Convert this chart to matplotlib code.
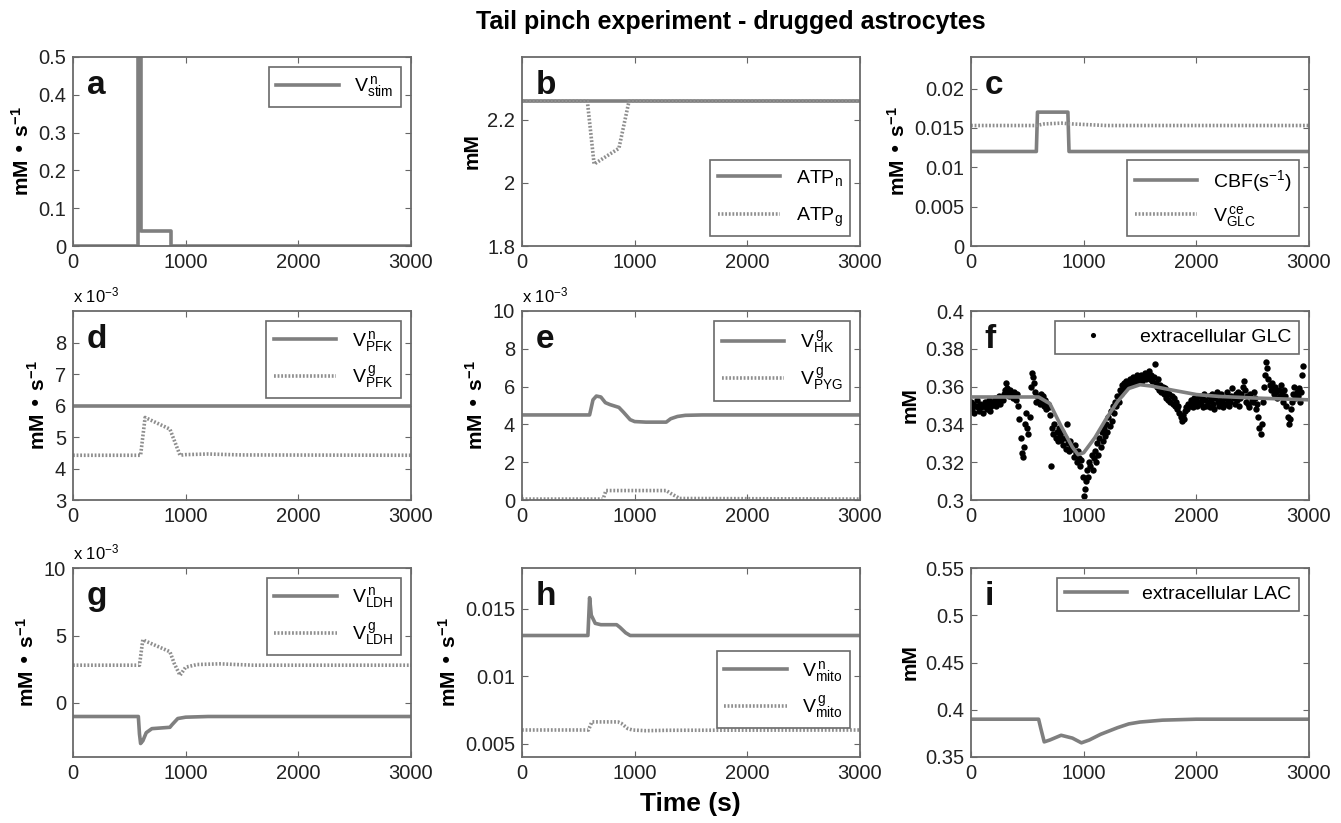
import numpy as np
import matplotlib
matplotlib.use('Agg')
import matplotlib.pyplot as plt

plt.rcParams['font.family'] = ['Liberation Sans', 'DejaVu Sans']
plt.rcParams['mathtext.default'] = 'regular'

# ---- data ----
# a: neuronal stimulation
t_stim = [0, 580, 580, 600, 600, 870, 870, 3000]
v_stim = [0, 0, 0.6, 0.6, 0.04, 0.04, 0, 0]

# b: ATP
t_atpn = [0, 3000]
atp_n = [2.26, 2.26]
t_atpg = [0, 580, 640, 860, 950, 3000]
atp_g = [2.26, 2.26, 2.06, 2.11, 2.26, 2.26]

# c: CBF and glucose transport
t_cbf = [0, 580, 590, 860, 870, 3000]
cbf = [0.012, 0.012, 0.017, 0.017, 0.012, 0.012]
t_vglc = [0, 580, 650, 800, 900, 1200, 3000]
v_glc = [0.0153, 0.0153, 0.0155, 0.0156, 0.0155, 0.0153, 0.0153]

# d: PFK (x 1e-3)
t_pfkn = [0, 3000]
pfk_n = [6.0, 6.0]
t_pfkg = [0, 600, 640, 860, 950, 1000, 1200, 1500, 3000]
pfk_g = [4.42, 4.42, 5.62, 5.25, 4.42, 4.44, 4.46, 4.43, 4.42]

# e: HK and PYG (x 1e-3)
t_hk = [0, 600, 630, 660, 700, 740, 780, 860, 900, 960, 1000, 1100, 1280, 1320, 1380, 1450, 1600, 3000]
hk_g = [4.5, 4.5, 5.3, 5.5, 5.45, 5.15, 5.05, 4.9, 4.65, 4.25, 4.15, 4.12, 4.12, 4.3, 4.42, 4.48, 4.5, 4.5]
t_pyg = [0, 720, 745, 1280, 1320, 1400, 3000]
pyg_g = [0.05, 0.05, 0.5, 0.5, 0.35, 0.08, 0.05]

# f: extracellular glucose, measured (every 10 s, in uM) and model
glc_obs = [352, 348, 351, 346, 350, 353, 349, 347, 351, 349,
           350, 346, 352, 349, 348, 351, 353, 347, 350, 352,
           351, 354, 350, 353, 352, 355, 351, 354, 353, 356,
           358, 362, 359, 357, 355, 358, 356, 354, 357, 355,
           353, 356, 350, 343, 333, 325, 323, 328, 340, 346,
           338, 335, 344, 360, 367, 365, 362, 357, 352, 355,
           354, 351, 356, 352, 355, 350, 353, 348, 351, 349,
           345, 318, 338, 335, 340, 333, 336, 331, 338, 334,
           332, 336, 329, 333, 327, 340, 330, 326, 331, 328,
           327, 323, 329, 325, 320, 326, 322, 318, 321, 312,
           302, 306, 310, 316, 312, 320, 318, 324, 316, 322,
           326, 320, 330, 324, 333, 328, 336, 331, 338, 334,
           340, 336, 344, 339, 347, 342, 350, 346, 352, 350,
           355, 352, 358, 356, 361, 358, 362, 360, 363, 361,
           362, 364, 361, 363, 365, 362, 364, 366, 363, 365,
           364, 366, 363, 365, 367, 364, 366, 365, 368, 364,
           366, 363, 365, 372, 362, 360, 364, 358, 361, 357,
           360, 356, 359, 354, 357, 353, 356, 352, 355, 351,
           354, 350, 352, 348, 350, 346, 344, 342, 345, 343,
           347, 349, 348, 351, 350, 353, 352, 349, 354, 351,
           353, 350, 355, 352, 351, 354, 349, 356, 353, 350,
           352, 355, 349, 353, 356, 351, 348, 354, 357, 352,
           350, 353, 356, 352, 349, 354, 351, 357, 353, 350,
           352, 355, 359, 354, 351, 356, 353, 357, 350, 354,
           356, 360, 363, 358, 352, 355, 351, 349, 356, 353,
           352, 357, 354, 348, 351, 344, 338, 335, 340, 352,
           360, 366, 373, 370, 364, 361, 358, 362, 359, 356,
           360, 357, 354, 358, 355, 361, 356, 352, 358, 355,
           350, 344, 340, 343, 348, 352, 356, 360, 354, 357,
           355, 359, 352, 357, 366, 371]
t_glc_fit = [0, 600, 700, 800, 900, 950, 1000, 1100, 1200, 1300, 1400, 1500, 1600, 1800, 2000, 2200, 2500, 3000]
glc_fit = [0.3545, 0.3545, 0.351, 0.339, 0.328, 0.324, 0.325, 0.333, 0.343, 0.352, 0.359, 0.361, 0.3603, 0.358, 0.3558, 0.3548, 0.354, 0.353]

# g: LDH (x 1e-3)
t_ldhn = [0, 580, 590, 600, 620, 650, 700, 860, 880, 930, 1000, 1200, 3000]
ldh_n = [-1.0, -1.0, -2.3, -3.0, -2.8, -2.2, -1.9, -1.8, -1.6, -1.15, -1.05, -1.0, -1.0]
t_ldhg = [0, 590, 620, 640, 860, 900, 950, 1000, 1100, 1300, 1600, 3000]
ldh_g = [2.8, 2.8, 4.7, 4.6, 3.8, 2.9, 2.05, 2.65, 2.85, 2.9, 2.8, 2.8]

# h: mitochondria
t_miton = [0, 585, 600, 615, 650, 700, 840, 870, 920, 960, 1000, 3000]
mito_n = [0.013, 0.013, 0.0158, 0.0145, 0.0139, 0.0138, 0.0138, 0.0136, 0.0132, 0.0130, 0.013, 0.013]
t_mitog = [0, 590, 620, 850, 880, 940, 980, 1100, 1300, 3000]
mito_g = [0.006, 0.006, 0.0066, 0.0066, 0.0065, 0.0061, 0.006, 0.00595, 0.00598, 0.006]

# i: extracellular lactate
t_lac = [0, 600, 620, 650, 700, 800, 900, 980, 1050, 1150, 1300, 1400, 1500, 1700, 2000, 3000]
lac = [0.39, 0.39, 0.38, 0.366, 0.368, 0.373, 0.37, 0.365, 0.368, 0.374, 0.381, 0.385, 0.387, 0.389, 0.39, 0.39]

# ---- figure ----
W, H = 1341, 823
fig = plt.figure(figsize=(W/100, H/100), dpi=100)

lefts = [73, 522, 971]
tops = [57, 311, 568]
aw, ah = 338, 189

gray = '#7f7f7f'
dgray = '#8e8e8e'
sol = dict(color=gray, lw=2.6, ls='-')
dot = dict(color=dgray, lw=2.6, ls=(0, (0.5, 0.5)))

def mkax(r, c):
    ax = fig.add_axes([lefts[c]/W, 1-(tops[r]+ah)/H, aw/W, ah/H])
    ax.set_xlim(0, 3000)
    ax.set_xticks([0, 1000, 2000, 3000])
    ax.tick_params(direction='in', top=True, right=True, labelsize=14.5, length=4,
                   color='#666666', labelcolor='#222222', pad=5)
    for s in ax.spines.values():
        s.set_color('#6a6a6a')
        s.set_linewidth(1.3)
    return ax

def letter(ax, s):
    ax.text(0.04, 0.93, s, transform=ax.transAxes, fontsize=24, fontweight='bold',
            va='top', ha='left', color='#111111')

def leg(ax, **kw):
    opts = dict(fontsize=14, fancybox=False, framealpha=1, edgecolor='#6a6a6a',
                handlelength=3.2, borderaxespad=0.5)
    opts.update(kw)
    l = ax.legend(**opts)
    l.get_frame().set_linewidth(1.2)
    return l

def ylab(ax, s):
    ax.set_ylabel(s, fontsize=15, fontweight='bold')

def scale_note(ax):
    ax.text(0.0, 1.03, 'x 10$^{-3}$', transform=ax.transAxes, fontsize=12, ha='left', va='bottom')

rate = 'mM \u2022 s$^{-1}$'

# a
ax = mkax(0, 0)
ax.plot(t_stim, v_stim, label='V$^{\\,n}_{stim}$', **sol)
ax.set_ylim(0, 0.5)
ax.set_yticks([0, 0.1, 0.2, 0.3, 0.4, 0.5])
ax.set_yticklabels(['0', '0.1', '0.2', '0.3', '0.4', '0.5'])
ylab(ax, rate); letter(ax, 'a'); leg(ax, loc='upper right')

# b
ax = mkax(0, 1)
ax.plot(t_atpn, atp_n, label='ATP$_n$', **sol)
ax.plot(t_atpg, atp_g, label='ATP$_g$', **dot)
ax.set_ylim(1.8, 2.4)
ax.set_yticks([1.8, 2.0, 2.2])
ax.set_yticklabels(['1.8', '2', '2.2'])
ylab(ax, 'mM'); letter(ax, 'b'); leg(ax, loc='lower right', labelspacing=0.9)

# c
ax = mkax(0, 2)
ax.plot(t_cbf, cbf, label='CBF(s$^{-1}$)', **sol)
ax.plot(t_vglc, v_glc, label='V$^{\\,ce}_{GLC}$', **dot)
ax.set_ylim(0, 0.024)
ax.set_yticks([0, 0.005, 0.01, 0.015, 0.02])
ax.set_yticklabels(['0', '0.005', '0.01', '0.015', '0.02'])
ylab(ax, rate); letter(ax, 'c'); leg(ax, loc='lower right')

# d
ax = mkax(1, 0)
ax.plot(t_pfkn, pfk_n, label='V$^{\\,n}_{PFK}$', **sol)
ax.plot(t_pfkg, pfk_g, label='V$^{\\,g}_{PFK}$', **dot)
ax.set_ylim(3, 9)
ax.set_yticks([3, 4, 5, 6, 7, 8])
ylab(ax, rate); letter(ax, 'd'); leg(ax, loc='upper right'); scale_note(ax)

# e
ax = mkax(1, 1)
ax.plot(t_hk, hk_g, label='V$^{\\,g}_{HK}$', **sol)
ax.plot(t_pyg, pyg_g, label='V$^{\\,g}_{PYG}$', **dot)
ax.set_ylim(0, 10)
ax.set_yticks([0, 2, 4, 6, 8, 10])
ylab(ax, rate); letter(ax, 'e'); leg(ax, loc='upper right'); scale_note(ax)

# f
ax = mkax(1, 2)
t_glc = 10*np.arange(len(glc_obs))
ax.plot(t_glc, np.array(glc_obs)/1000.0, 'o', color='black', ms=4.6, mew=0,
        label='extracellular GLC')
ax.plot(t_glc_fit, glc_fit, color=gray, lw=2.6, zorder=3)
ax.set_ylim(0.3, 0.4)
ax.set_yticks([0.3, 0.32, 0.34, 0.36, 0.38, 0.4])
ax.set_yticklabels(['0.3', '0.32', '0.34', '0.36', '0.38', '0.4'])
ylab(ax, 'mM'); letter(ax, 'f')
l = leg(ax, loc='upper right', numpoints=1, markerscale=0.8)

# g
ax = mkax(2, 0)
ax.plot(t_ldhn, ldh_n, label='V$^{\\,n}_{LDH}$', **sol)
ax.plot(t_ldhg, ldh_g, label='V$^{\\,g}_{LDH}$', **dot)
ax.set_ylim(-4, 10)
ax.set_yticks([0, 5, 10])
ylab(ax, rate); letter(ax, 'g'); leg(ax, loc='upper right'); scale_note(ax)

# h
ax = mkax(2, 1)
ax.plot(t_miton, mito_n, label='V$^{\\,n}_{mito}$', **sol)
ax.plot(t_mitog, mito_g, label='V$^{\\,g}_{mito}$', **dot)
ax.set_ylim(0.004, 0.018)
ax.set_yticks([0.005, 0.01, 0.015])
ax.set_yticklabels(['0.005', '0.01', '0.015'])
ylab(ax, rate); letter(ax, 'h')
leg(ax, loc='lower right', bbox_to_anchor=(1.0, 0.1))

# i
ax = mkax(2, 2)
ax.plot(t_lac, lac, label='extracellular LAC', **sol)
ax.set_ylim(0.35, 0.55)
ax.set_yticks([0.35, 0.4, 0.45, 0.5, 0.55])
ax.set_yticklabels(['0.35', '0.4', '0.45', '0.5', '0.55'])
ylab(ax, 'mM'); letter(ax, 'i'); leg(ax, loc='upper right')

fig.text(0.545, 0.988, 'Tail pinch experiment - drugged astrocytes', ha='center', va='top',
         fontsize=18, fontweight='bold')
fig.text(0.515, 0.008, 'Time (s)', ha='center', va='bottom', fontsize=19, fontweight='bold')

fig.savefig('out.png', dpi=100)
